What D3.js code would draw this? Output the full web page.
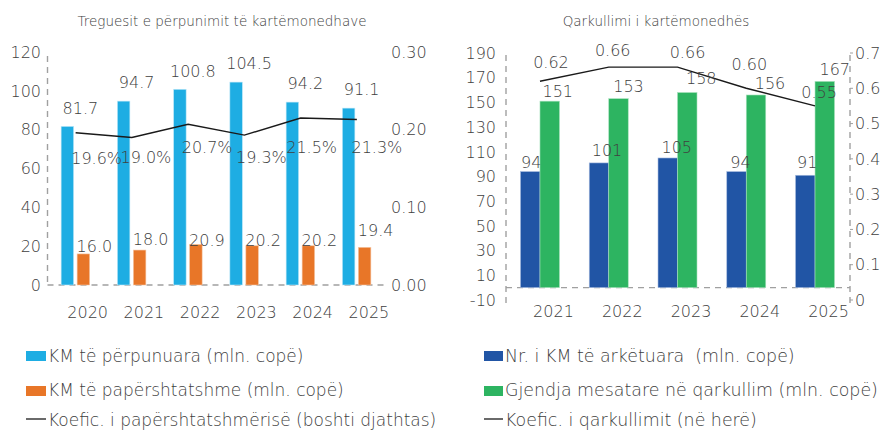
<!DOCTYPE html>
<html>
<head>
<meta charset="utf-8">
<script src="https://cdn.jsdelivr.net/npm/d3@7"></script>
<style>
  html, body { margin: 0; padding: 0; background: #fff; }
  svg { display: block; }
  text { font-family: "DejaVu Sans", "Lato", sans-serif; font-weight: 200; fill: #404040; }
</style>
</head>
<body>
<svg id="chart" width="886" height="435"></svg>
<script>
// ---- Left panel: banknote processing indicators ----
const yearsA = ["2020", "2021", "2022", "2023", "2024", "2025"];
const processed = [81.7, 94.7, 100.8, 104.5, 94.2, 91.1];   // mln. pieces
const unfit = [16.0, 18.0, 20.9, 20.2, 20.2, 19.4];          // mln. pieces
const unfitRatio = [0.196, 0.190, 0.207, 0.193, 0.215, 0.213];
const leftTicksA = [0, 20, 40, 60, 80, 100, 120];
const rightTicksA = [0, 0.10, 0.20, 0.30];

// ---- Right panel: banknote circulation ----
const yearsB = ["2021", "2022", "2023", "2024", "2025"];
const deposited = [94, 101, 105, 94, 91];          // mln. pieces
const avgStock = [151, 153, 158, 156, 167];        // mln. pieces
const velocity = [0.62, 0.66, 0.66, 0.60, 0.55];
const leftTicksB = [-10, 10, 30, 50, 70, 90, 110, 130, 150, 170, 190];
const rightTicksB = [0, 0.1, 0.2, 0.3, 0.4, 0.5, 0.6, 0.7];

// label nudges [dx, dy] relative to the mark they describe
const unfitLabelNudge = [[11, -8], [11, -11], [11, -4], [11, -6], [11, -6], [11, -17]];
const ratioLabelNudge = [[21, 25], [14, 20], [19, 23], [17, 22], [11, 29], [20, 28]];
const depositedLabelNudge = [[1, -9], [8, -13], [9, -11], [4, -9], [2, -13]];
const stockLabelNudge = [[8, -10], [10, -12], [14, -14], [14, -12], [10, -12]];
const velocityLabelNudge = [[11, -19], [4, -17], [10, -15], [3, -24], [4, -14]];

const COLORS = { cyan: "#1eade3", orange: "#e87628", navy: "#2155a5", green: "#2db461", line: "#1a1a1a", grid: "#a0a0a0" };
const svg = d3.select("#chart");
const FS = 16;

function dashed(g, x1, y1, x2, y2) {
  g.append("line").attr("x1", x1).attr("y1", y1).attr("x2", x2).attr("y2", y2)
    .attr("stroke", COLORS.grid).attr("stroke-width", 1.4).attr("stroke-dasharray", "6,5");
}

// ===== Left panel =====
{
  const g = svg.append("g");
  const x = d3.scaleBand().domain(yearsA).range([47.5, 385]).padding(0);
  const y = d3.scaleLinear().domain([0, 120]).range([285, 52]);
  const y2 = d3.scaleLinear().domain([0, 0.30]).range([285, 52]);
  const c = d => x(d) + x.bandwidth() / 2;
  const bw = 12.5;

  g.append("text").attr("x", 222).attr("y", 26).attr("text-anchor", "middle")
    .attr("font-size", 13.5).text("Treguesit e përpunimit të kartëmonedhave");

  dashed(g, 47.5, 56, 47.5, 285);
  dashed(g, 47.5, 285, 385, 285);

  g.selectAll(".tl").data(leftTicksA).join("text")
    .attr("x", 41).attr("y", d => y(d)).attr("dy", "0.36em").attr("text-anchor", "end")
    .attr("font-size", FS).text(d => d);
  g.selectAll(".tr").data(rightTicksA).join("text")
    .attr("x", 391).attr("y", d => y2(d)).attr("dy", "0.36em")
    .attr("font-size", FS).text(d => d3.format(".2f")(d));
  g.selectAll(".yr").data(yearsA).join("text")
    .attr("x", d => c(d) + 12).attr("y", 312).attr("dy", "0.36em").attr("text-anchor", "middle")
    .attr("font-size", FS).text(d => d);

  g.selectAll(".b1").data(processed).join("rect")
    .attr("x", (d, i) => c(yearsA[i]) - 14.5).attr("width", bw)
    .attr("y", d => y(d)).attr("height", d => y(0) - y(d))
    .attr("fill", COLORS.cyan).attr("stroke", "#bfe8f8").attr("stroke-width", 0.6);
  g.selectAll(".b2").data(unfit).join("rect")
    .attr("x", (d, i) => c(yearsA[i]) + 1.5).attr("width", bw)
    .attr("y", d => y(d)).attr("height", d => y(0) - y(d))
    .attr("fill", COLORS.orange).attr("stroke", "#f6c6a3").attr("stroke-width", 0.6);

  const line = d3.line().x((d, i) => c(yearsA[i])).y(d => y2(d));
  g.append("path").datum(unfitRatio).attr("d", line)
    .attr("fill", "none").attr("stroke", COLORS.line).attr("stroke-width", 1.4);

  g.selectAll(".l1").data(processed).join("text")
    .attr("x", (d, i) => c(yearsA[i]) - 8.25 + 13).attr("y", d => y(d) - 18.5).attr("dy", "0.36em")
    .attr("text-anchor", "middle").attr("font-size", FS).text(d => d.toFixed(1));
  g.selectAll(".l2").data(unfit).join("text")
    .attr("x", (d, i) => c(yearsA[i]) + 7.75 + unfitLabelNudge[i][0])
    .attr("y", (d, i) => y(d) + unfitLabelNudge[i][1]).attr("dy", "0.36em")
    .attr("text-anchor", "middle").attr("font-size", FS).text(d => d.toFixed(1));
  g.selectAll(".l3").data(unfitRatio).join("text")
    .attr("x", (d, i) => c(yearsA[i]) + ratioLabelNudge[i][0])
    .attr("y", (d, i) => y2(d) + ratioLabelNudge[i][1]).attr("dy", "0.36em")
    .attr("text-anchor", "middle").attr("font-size", FS).text(d => (d * 100).toFixed(1) + "%");

  // legend
  const lg = g.append("g");
  lg.append("rect").attr("x", 26).attr("y", 351).attr("width", 20).attr("height", 10).attr("fill", COLORS.cyan);
  lg.append("rect").attr("x", 26).attr("y", 386).attr("width", 20).attr("height", 10).attr("fill", COLORS.orange);
  lg.append("line").attr("x1", 26).attr("x2", 46).attr("y1", 419).attr("y2", 419).attr("stroke", COLORS.line).attr("stroke-width", 1.3);
  [["KM të përpunuara (mln. copë)", 362], ["KM të papërshtatshme (mln. copë)", 396], ["Koefic. i papërshtatshmërisë (boshti djathtas)", 426]]
    .forEach(([t, yy]) => lg.append("text").attr("x", 48).attr("y", yy).attr("font-size", 17).text(t));
}

// ===== Right panel =====
{
  const g = svg.append("g");
  const x = d3.scaleBand().domain(yearsB).range([505.6, 849.4]).padding(0);
  const y = d3.scaleLinear().domain([-10, 190]).range([300, 53]);
  const y2 = d3.scaleLinear().domain([0, 0.7]).range([300, 53]);
  const c = d => x(d) + x.bandwidth() / 2;
  const bw = 19.5;

  g.append("text").attr("x", 656).attr("y", 26).attr("text-anchor", "middle")
    .attr("font-size", 13.5).text("Qarkullimi i kartëmonedhës");

  dashed(g, 506, 55, 506, 305);
  dashed(g, 850, 55, 850, 305);
  dashed(g, 506, y(0), 850, y(0));
  g.selectAll(".rt").data(rightTicksB).join("line")
    .attr("x1", 850).attr("x2", 853).attr("y1", d => y2(d)).attr("y2", d => y2(d))
    .attr("stroke", COLORS.grid).attr("stroke-width", 1);

  g.selectAll(".tl").data(leftTicksB).join("text")
    .attr("x", 496).attr("y", d => y(d)).attr("dy", "0.36em").attr("text-anchor", "end")
    .attr("font-size", FS).text(d => d);
  g.selectAll(".tr").data(rightTicksB).join("text")
    .attr("x", 855).attr("y", d => y2(d)).attr("dy", "0.36em")
    .attr("font-size", FS).text(d => d3.format("~g")(d));
  g.selectAll(".yr").data(yearsB).join("text")
    .attr("x", d => c(d) + 13.5).attr("y", 311).attr("dy", "0.36em").attr("text-anchor", "middle")
    .attr("font-size", FS).text(d => d);

  g.selectAll(".b1").data(deposited).join("rect")
    .attr("x", (d, i) => c(yearsB[i]) - bw).attr("width", bw)
    .attr("y", d => y(d)).attr("height", d => y(0) - y(d))
    .attr("fill", COLORS.navy).attr("stroke", "#a9bde0").attr("stroke-width", 0.6);
  g.selectAll(".b2").data(avgStock).join("rect")
    .attr("x", (d, i) => c(yearsB[i])).attr("width", bw)
    .attr("y", d => y(d)).attr("height", d => y(0) - y(d))
    .attr("fill", COLORS.green).attr("stroke", "#a8e2bd").attr("stroke-width", 0.6);

  const line = d3.line().x((d, i) => c(yearsB[i])).y(d => y2(d));
  g.append("path").datum(velocity).attr("d", line)
    .attr("fill", "none").attr("stroke", COLORS.line).attr("stroke-width", 1.4);

  g.selectAll(".l1").data(deposited).join("text")
    .attr("x", (d, i) => c(yearsB[i]) - bw / 2 + depositedLabelNudge[i][0])
    .attr("y", (d, i) => y(d) + depositedLabelNudge[i][1]).attr("dy", "0.36em")
    .attr("text-anchor", "middle").attr("font-size", FS).text(d => d);
  g.selectAll(".l2").data(avgStock).join("text")
    .attr("x", (d, i) => c(yearsB[i]) + bw / 2 + stockLabelNudge[i][0])
    .attr("y", (d, i) => y(d) + stockLabelNudge[i][1]).attr("dy", "0.36em")
    .attr("text-anchor", "middle").attr("font-size", FS).text(d => d);
  g.selectAll(".l3").data(velocity).join("text")
    .attr("x", (d, i) => c(yearsB[i]) + velocityLabelNudge[i][0])
    .attr("y", (d, i) => y2(d) + velocityLabelNudge[i][1]).attr("dy", "0.36em")
    .attr("text-anchor", "middle").attr("font-size", FS).text(d => d.toFixed(2));

  // legend
  const lg = g.append("g");
  lg.append("rect").attr("x", 484).attr("y", 351).attr("width", 19).attr("height", 10).attr("fill", COLORS.navy);
  lg.append("rect").attr("x", 484).attr("y", 386).attr("width", 19).attr("height", 10).attr("fill", COLORS.green);
  lg.append("line").attr("x1", 484).attr("x2", 503).attr("y1", 419).attr("y2", 419).attr("stroke", COLORS.line).attr("stroke-width", 1.3);
  [["Nr. i KM të arkëtuara  (mln. copë)", 362], ["Gjendja mesatare në qarkullim (mln. copë)", 396], ["Koefic. i qarkullimit (në herë)", 426]]
    .forEach(([t, yy]) => lg.append("text").attr("x", 505).attr("y", yy).attr("font-size", 17.4).attr("xml:space", "preserve").text(t));
}
</script>
</body>
</html>
